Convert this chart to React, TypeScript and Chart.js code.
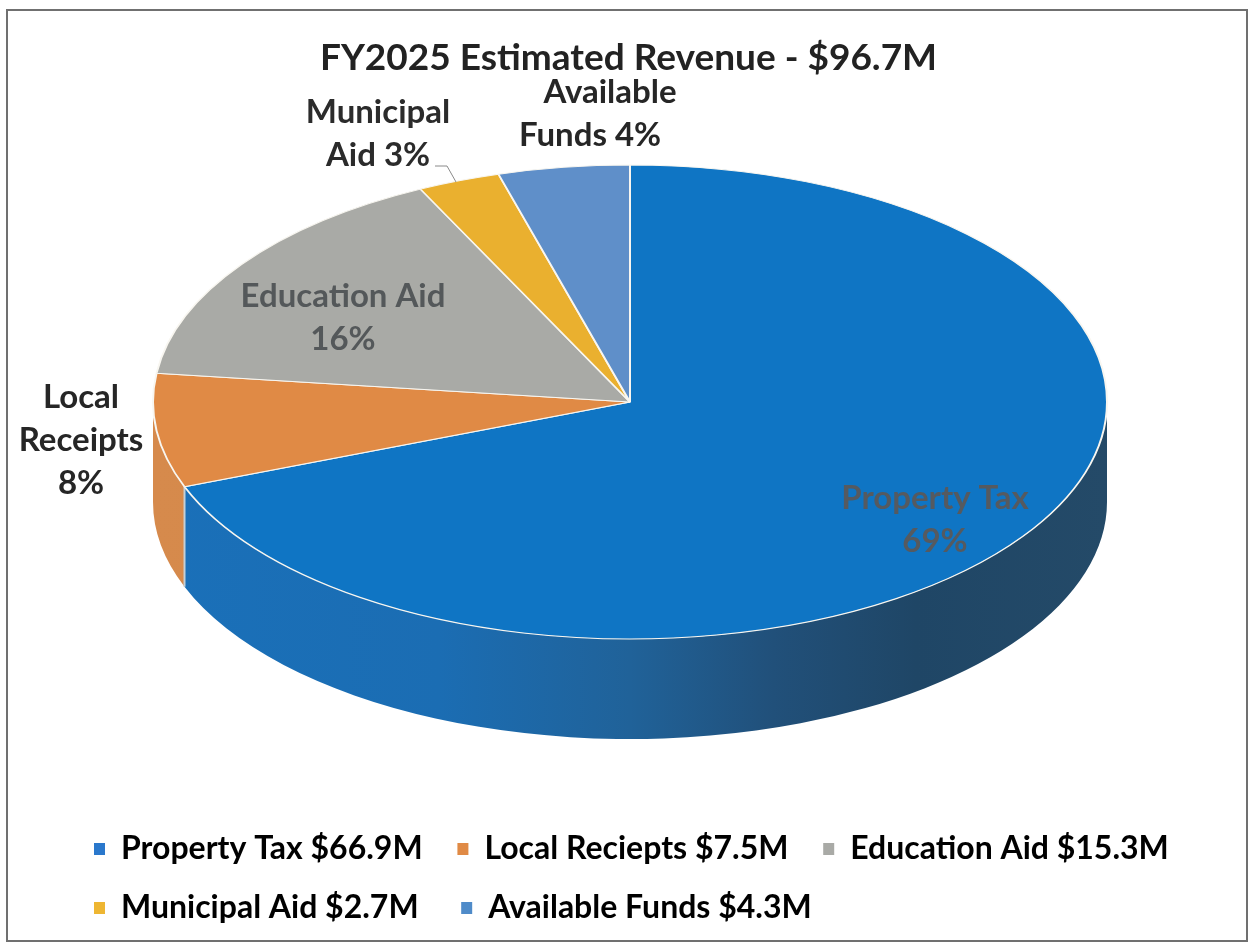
import React, { useEffect, useRef } from "react";
import { Chart, registerables } from "chart.js";

Chart.register(...registerables);

const chartTitle = "FY2025 Estimated Revenue - $96.7M";
const categories = ["Property Tax", "Local Reciepts", "Education Aid", "Municipal Aid", "Available Funds"];
const revenueMillions = [66.9, 7.5, 15.3, 2.7, 4.3];
const legendValueLabels = ["$66.9M", "$7.5M", "$15.3M", "$2.7M", "$4.3M"];
const sliceColors = ["#0f75c4", "#e08a45", "#a9aaa6", "#eab02f", "#5f8fc9"];
const legendColors = ["#2a78cc", "#e08a45", "#a9aaa6", "#eeb632", "#4f8bc9"];
const sliceLabelLines = [
  ["Property Tax", "69%"],
  ["Local", "Receipts", "8%"],
  ["Education Aid", "16%"],
  ["Municipal", "Aid 3%"],
  ["Available", "Funds 4%"],
];

// layout
const FONT = "Lato, Carlito, sans-serif";
const PIE = { cx: 630, cy: 402, rx: 477, ry: 237, depth: 100 };
const LABEL_POS = [
  { x: 935, y: 498, color: "#555a60", xs: [0, 0] },
  { x: 81, y: 397, color: "#262626", xs: [0, 0, 0] },
  { x: 343, y: 296, color: "#54585a", xs: [0, 0] },
  { x: 378, y: 112, color: "#2b2b2b", xs: [0, 0] },
  { x: 610, y: 92, color: "#262626", xs: [0, -20] },
];
const LABEL_LINE_GAP = 43;
const LEGEND_COLUMN_PAD = [" ", " ", "", "  ", ""];

const sideGradient = (ctx: CanvasRenderingContext2D, index: number) => {
  const { cx, rx } = PIE;
  const g = ctx.createLinearGradient(cx - rx, 0, cx + rx, 0);
  if (index === 0) {
    g.addColorStop(0, "#1a70b9");
    g.addColorStop(0.3, "#1b6db3");
    g.addColorStop(0.5, "#206299");
    g.addColorStop(0.65, "#21507a");
    g.addColorStop(0.8, "#1f4666");
    g.addColorStop(1, "#244a68");
  } else {
    g.addColorStop(0, "#d68a4c");
    g.addColorStop(1, "#c98545");
  }
  return g;
};

const pie3dPlugin = {
  id: "pie3d",
  beforeDraw(chart: any) {
    const { ctx } = chart;
    ctx.save();
    ctx.strokeStyle = "#707070";
    ctx.lineWidth = 2;
    ctx.strokeRect(7, 10, 1240, 931);
    ctx.restore();
  },
  afterLayout(chart: any) {
    chart.legend.left = 67;
    chart.legend.top = 806;
  },
  beforeDatasetsDraw(chart: any) {
    const { ctx } = chart;
    const arcs = chart.getDatasetMeta(0).data;
    const { cx, cy, rx, ry, depth } = PIE;
    ctx.save();
    arcs.forEach((arc: any, i: number) => {
      const a = Math.max(arc.startAngle, 0);
      const b = Math.min(arc.endAngle, Math.PI);
      if (b <= a) return;
      ctx.beginPath();
      ctx.ellipse(cx, cy, rx, ry, 0, a, b, false);
      ctx.ellipse(cx, cy + depth, rx, ry, 0, b, a, true);
      ctx.closePath();
      ctx.fillStyle = sideGradient(ctx, i);
      ctx.fill();
    });
    arcs.forEach((arc: any) => {
      const a = arc.startAngle;
      if (a <= 0 || a >= Math.PI) return;
      const x = cx + rx * Math.cos(a);
      const y = cy + ry * Math.sin(a);
      ctx.beginPath();
      ctx.moveTo(x, y);
      ctx.lineTo(x, y + depth);
      ctx.strokeStyle = "#c4cfd6";
      ctx.lineWidth = 2;
      ctx.stroke();
    });
    ctx.restore();
    const first = arcs[0];
    ctx.save();
    ctx.translate(cx, cy);
    ctx.scale(1, ry / rx);
    ctx.translate(-first.x, -first.y);
  },
  afterDatasetsDraw(chart: any) {
    chart.ctx.restore();
  },
  afterDraw(chart: any) {
    const { ctx } = chart;
    ctx.save();
    ctx.beginPath();
    ctx.moveTo(435, 166);
    ctx.lineTo(447, 166);
    ctx.lineTo(456, 182);
    ctx.strokeStyle = "#8a8a8a";
    ctx.lineWidth = 1;
    ctx.stroke();
    ctx.font = `bold 33px ${FONT}`;
    ctx.textAlign = "center";
    ctx.textBaseline = "middle";
    sliceLabelLines.forEach((lines, i) => {
      const p = LABEL_POS[i];
      ctx.fillStyle = p.color;
      lines.forEach((t, j) => ctx.fillText(t, p.x + p.xs[j], p.y + j * LABEL_LINE_GAP));
    });
    ctx.restore();
  },
};

export default function App() {
  const ref = useRef<HTMLCanvasElement>(null);
  useEffect(() => {
    const chart = new Chart(ref.current!, {
      type: "pie",
      data: {
        labels: categories,
        datasets: [
          {
            data: revenueMillions,
            backgroundColor: sliceColors,
            borderColor: "#f8f6f0",
            borderWidth: 2,
            radius: PIE.rx,
            clip: false,
          } as any,
        ],
      },
      plugins: [pie3dPlugin as any],
      options: {
        responsive: false,
        animation: false,
        layout: { padding: { left: 0, right: -7 } },
        plugins: {
          tooltip: { enabled: false },
          title: {
            display: true,
            text: chartTitle,
            color: "#222222",
            font: { family: FONT, size: 37, weight: "bold" },
            padding: { top: 36, bottom: 85 },
          },
          legend: {
            display: true,
            position: "bottom",
            align: "start",
            labels: {
              boxWidth: 11,
              boxHeight: 12,
              padding: 27,
              color: "#222222",
              font: { family: FONT, size: 32, weight: "bold" },
              generateLabels: () =>
                categories.map((c, i) => ({
                  text: `${c} ${legendValueLabels[i]}${LEGEND_COLUMN_PAD[i]}`,
                  fillStyle: legendColors[i],
                  strokeStyle: legendColors[i],
                  lineWidth: 0,
                  index: i,
                  datasetIndex: 0,
                })),
            },
          },
        },
      } as any,
    });
    return () => chart.destroy();
  }, []);
  return (
    <div style={{ position: "fixed", left: 0, top: 0, width: 1250, height: 944, background: "#fff" }}>
      <canvas ref={ref} width={1250} height={944} style={{ display: "block" }} />
    </div>
  );
}
